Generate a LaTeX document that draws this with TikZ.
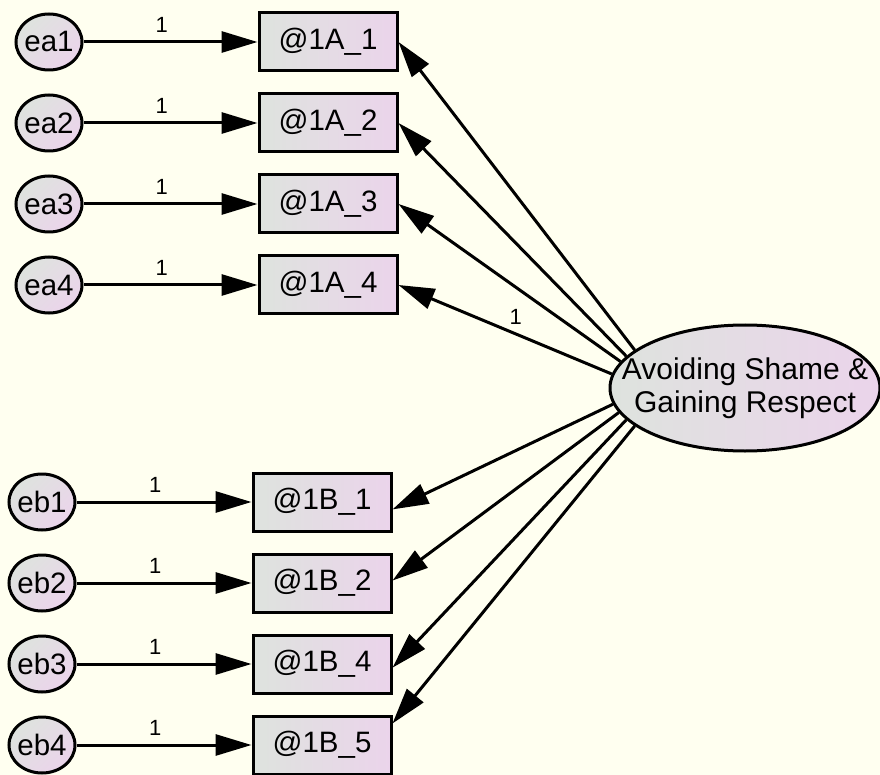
\documentclass[tikz,border=0pt]{standalone}
\usepackage{fontspec}
\setmainfont{Liberation Sans}
\usetikzlibrary{arrows.meta,shapes.geometric}
\definecolor{paper}{RGB}{255,255,240}
\definecolor{shadeL}{RGB}{222,227,222}
\definecolor{shadeR}{RGB}{235,212,235}

\begin{document}
\begin{tikzpicture}[x=1pt, y=-1pt, line width=3pt,
    obs/.style={draw, rectangle, minimum width=138pt, minimum height=58pt, inner sep=0pt,
      left color=shadeL, right color=shadeR, font=\fontsize{29.5}{33}\selectfont},
    err/.style={draw, ellipse, minimum width=66pt, minimum height=56pt, inner xsep=-12pt, inner ysep=0pt,
      top color=shadeL, bottom color=shadeR, shading angle=45, font=\fontsize{29.5}{33}\selectfont},
    lat/.style={draw, ellipse, minimum width=270pt, minimum height=126pt, inner xsep=-30pt, inner ysep=0pt,
      align=center, left color=shadeL, right color=shadeR, font=\fontsize{30}{33}\selectfont},
    path/.style={-{Triangle[length=36pt, width=21pt]}},
    one/.style={pos=0.45, above=8pt, inner sep=0pt, font=\fontsize{22}{22}\selectfont}]
      \fill[paper] (0, 0) rectangle (880, 775);
      \useasboundingbox (0, 0) rectangle (880, 775);

      \node[lat] (f) at (745, 388) {Avoiding Shame \&\\Gaining Respect};

      \foreach \y [count=\i] in {42, 123, 204, 285} {
        \node[obs] (a\i) at (328, \y) {@1A\_\i};
        \node[err] (ea\i) at (49, \y) {ea\i};
        \draw[path] (ea\i) -- node[one] {1} (a\i);
      }
      \foreach \y/\n [count=\i] in {502/1, 583/2, 664/4, 745/5} {
        \node[obs] (b\i) at (322, \y) {@1B\_\n};
        \node[err] (eb\i) at (42, \y) {eb\i};
        \draw[path] (eb\i) -- node[one] {1} (b\i);
      }

      \draw[path] (f.161) -- (a1.east);
      \draw[path] (f.165) -- (a2.east);
      \draw[path] (f.168) -- (a3.east);
      \draw[path] (f.174) -- node[one] {1} (a4.east);
      \draw[path] (f.187) -- (b1.-6);
      \draw[path] (f.191) -- (b2.2);
      \draw[path] (f.195) -- (b3.-3);
      \draw[path] (f.199) -- (b4.17);
    \end{tikzpicture}
\end{document}
